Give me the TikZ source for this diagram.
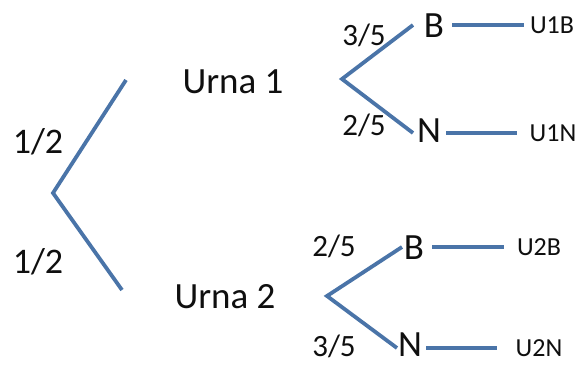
\documentclass[tikz,border=0pt]{standalone}
\usepackage{fontspec}
\setmainfont{Carlito}
\definecolor{branch}{RGB}{74,116,168}
\definecolor{ink}{RGB}{15,15,15}
\begin{document}
\begin{tikzpicture}[x=1pt,y=-1pt,
  br/.style={draw=branch,line width=3.8pt},
  big/.style={font=\fontsize{37}{40}\selectfont,text=ink,inner sep=0pt,anchor=center},
  prob/.style={font=\fontsize{31}{34}\selectfont,text=ink,inner sep=0pt,anchor=center},
  half/.style={font=\fontsize{36}{38}\selectfont,text=ink,inner sep=0pt,anchor=center},
  leaf/.style={font=\fontsize{26}{28}\selectfont,text=ink,inner sep=0pt,anchor=center}]
\useasboundingbox (0,0) rectangle (582,365);
% main fork
\coordinate (root) at (53,193);
\coordinate (r1) at (126,80);
\coordinate (r2) at (122,290);
\draw[br] (r1) -- (root) -- (r2);
\node[half] (p1) at (38,142) {1/2};
\node[half] (p2) at (38,262) {1/2};
\node[big] (urna1) at (233,82) {Urna 1};
\node[big] (urna2) at (225,297) {Urna 2};
% urna 1
\coordinate (a1) at (342,79);
\coordinate (a1b) at (413,25);
\coordinate (a1n) at (413,133);
\draw[br] (a1b) -- (a1) -- (a1n);
\node[prob] (q1) at (364,35) {3/5};
\node[prob] (q2) at (364,125) {2/5};
\node[big] (b1) at (434,26) {B};
\node[big] (n1) at (429,131) {N};
\coordinate (b1s) at (452,25);
\coordinate (b1e) at (524,25);
\coordinate (n1s) at (446,133);
\coordinate (n1e) at (517,133);
\draw[br] (b1s) -- (b1e);
\draw[br] (n1s) -- (n1e);
\node[leaf] (u1b) at (552,25) {U1B};
\node[leaf] (u1n) at (553,133) {U1N};
% urna 2
\coordinate (a2) at (327,296);
\coordinate (a2b) at (402,247);
\coordinate (a2n) at (397,348);
\draw[br] (a2b) -- (a2) -- (a2n);
\node[prob] (q3) at (334,246) {2/5};
\node[prob] (q4) at (334,346) {3/5};
\node[big] (b2) at (414,248) {B};
\node[big] (n2) at (410,345) {N};
\coordinate (b2s) at (432,247);
\coordinate (b2e) at (504,247);
\coordinate (n2s) at (426,348);
\coordinate (n2e) at (497,348);
\draw[br] (b2s) -- (b2e);
\draw[br] (n2s) -- (n2e);
\node[leaf] (u2b) at (539,247) {U2B};
\node[leaf] (u2n) at (539,348) {U2N};
\end{tikzpicture}
\end{document}
